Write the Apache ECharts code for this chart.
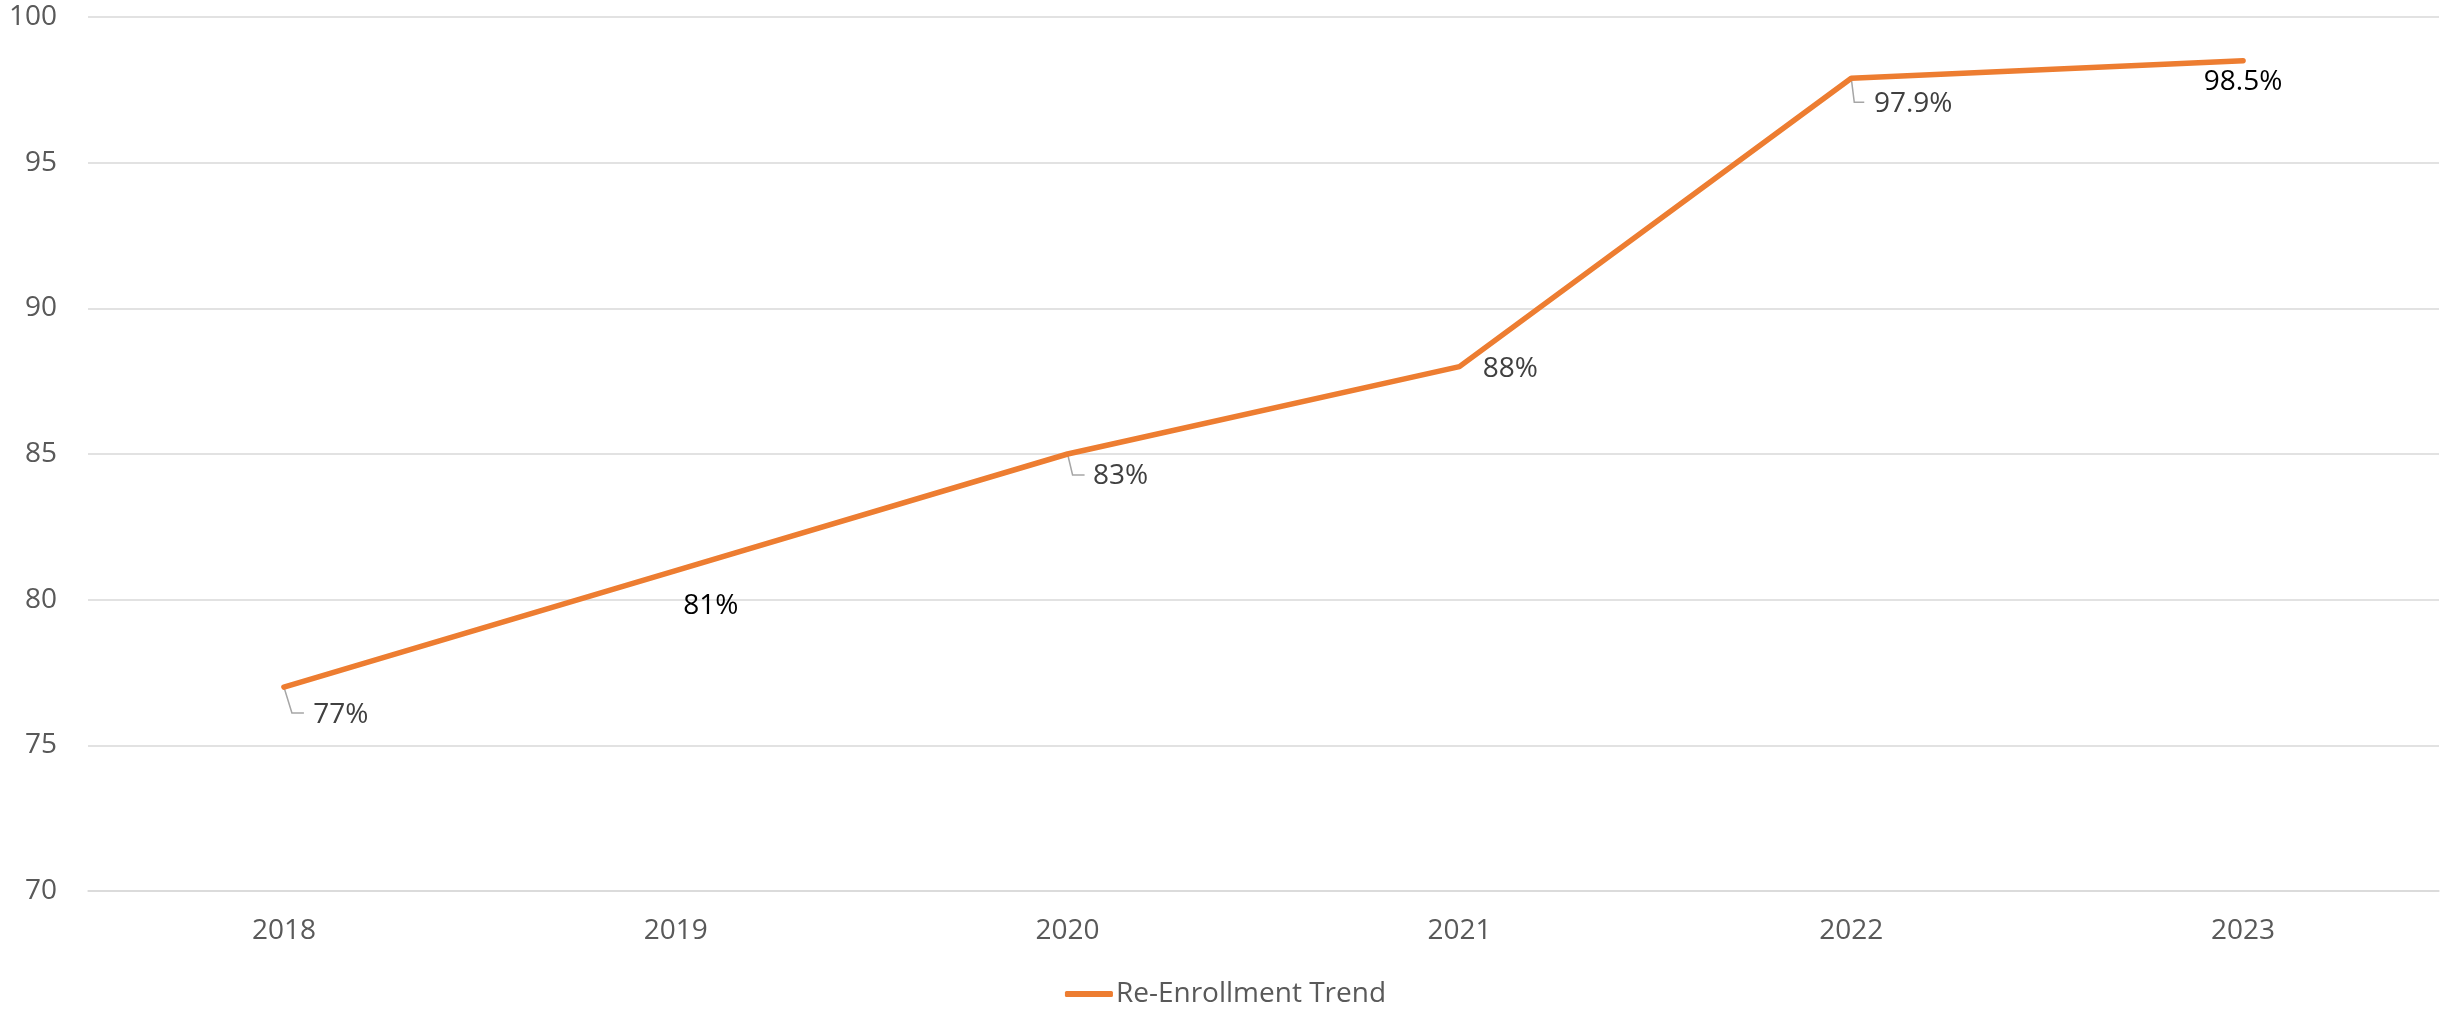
<!DOCTYPE html>
<html>
<head>
<meta charset="utf-8">
<script src="https://cdn.jsdelivr.net/npm/echarts@6/dist/echarts.min.js"></script>
<style>
html,body{margin:0;padding:0;background:#fff;}
#chart{width:2451px;height:1009px;}
</style>
</head>
<body>
<div id="chart"></div>
<script>
// ---- data ----
const categories = ['2018', '2019', '2020', '2021', '2022', '2023'];
const values = [77, 81, 85, 88, 97.9, 98.5];
const labelTexts = ['77%', '81%', '83%', '88%', '97.9%', '98.5%'];
const yTicks = [70, 75, 80, 85, 90, 95, 100];
const seriesName = 'Re-Enrollment Trend';

// ---- styling (label placement in pixels relative to each point) ----
const labelOffsets = [[57, 28], [35, 35], [53, 22], [51, 2], [62, 26], [0, 21]];
const labelColors = ['#404040', '#000000', '#404040', '#404040', '#404040', '#000000'];
const leaderShapes = { 0: [[8, 26], [20, 26]], 2: [[5, 21], [17, 21]], 4: [[3, 24], [13, 24]] };

const FONT = '"Open Sans", Lato, sans-serif';
const chart = echarts.init(document.getElementById('chart'));

const lineData = values.map((v, i) => ({
  value: v,
  label: {
    show: true,
    position: 'inside',
    offset: labelOffsets[i],
    formatter: labelTexts[i],
    color: labelColors[i],
    fontSize: 28,
    fontFamily: FONT
  }
}));

chart.setOption({
  animation: false,
  backgroundColor: '#ffffff',
  grid: { left: 88, right: 12, top: 17, bottom: 118 },
  legend: {
    data: [seriesName],
    top: 975,
    left: 'center',
    icon: 'roundRect',
    itemWidth: 48,
    itemHeight: 6,
    itemGap: 10,
    textStyle: { color: '#595959', fontSize: 28, fontFamily: FONT, padding: [0, 0, 0, -2] }
  },
  xAxis: {
    type: 'category',
    data: categories,
    boundaryGap: true,
    axisLine: { show: true, lineStyle: { color: '#d9d9d9', width: 1.5 } },
    axisTick: { show: false },
    axisLabel: { color: '#595959', fontSize: 28, fontFamily: FONT, margin: 26 }
  },
  yAxis: {
    type: 'value',
    min: yTicks[0],
    max: yTicks[yTicks.length - 1],
    interval: yTicks[1] - yTicks[0],
    axisLine: { show: false },
    axisTick: { show: false },
    splitLine: { lineStyle: { color: '#d9d9d9', width: 1.5 } },
    axisLabel: { color: '#595959', fontSize: 28, fontFamily: FONT, margin: 31 }
  },
  series: [
    {
      type: 'custom',
      name: 'leaders',
      z: 1,
      silent: true,
      data: values.map((v, i) => [i, v]),
      renderItem: function (params, api) {
        const shape = leaderShapes[params.dataIndex];
        if (!shape) return null;
        const p = api.coord([api.value(0), api.value(1)]);
        return {
          type: 'polyline',
          shape: { points: [p, [p[0] + shape[0][0], p[1] + shape[0][1]], [p[0] + shape[1][0], p[1] + shape[1][1]]] },
          style: { stroke: '#a6a6a6', lineWidth: 1.5, fill: null }
        };
      }
    },
    {
      type: 'line',
      name: seriesName,
      z: 3,
      data: lineData,
      symbol: 'circle',
      symbolSize: 1,
      showSymbol: true,
      itemStyle: { color: '#ED7D31' },
      lineStyle: { color: '#ED7D31', width: 5.5, cap: 'round', join: 'round' }
    }
  ]
});
</script>
</body>
</html>
